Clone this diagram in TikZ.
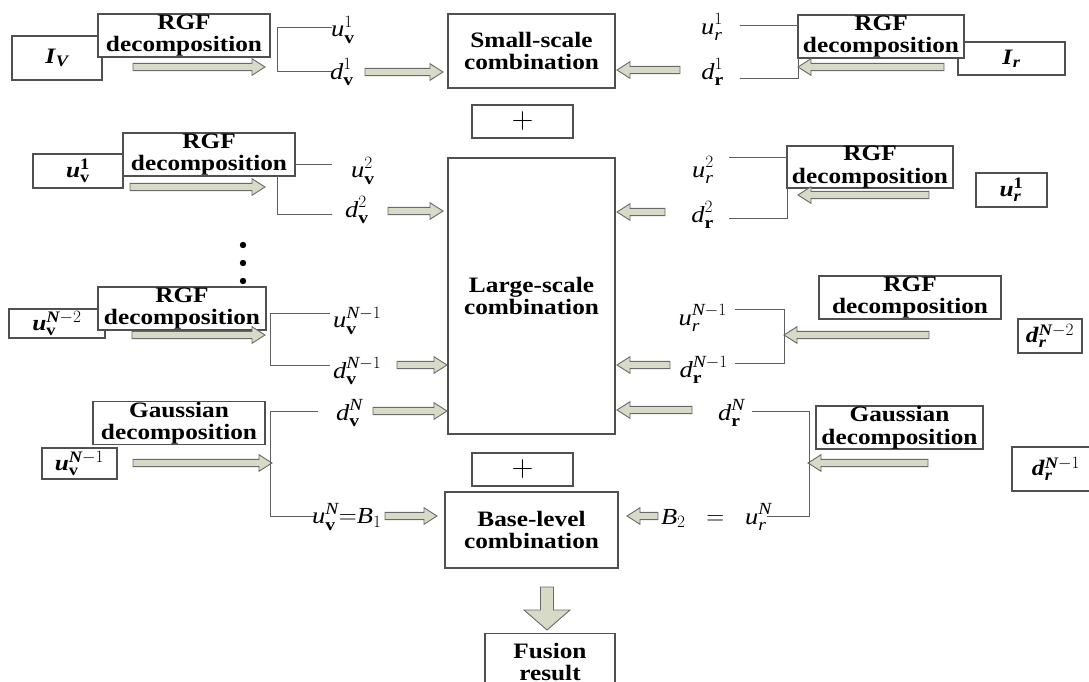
\documentclass[tikz,border=0pt]{standalone}
\usepackage{amsmath}
\usepackage{fontspec}
\setmainfont{Liberation Serif}[FakeStretch=1.15]
\usetikzlibrary{calc}
\DeclareMathSizes{23}{23}{17}{13}
\DeclareMathSizes{22}{22}{16}{12}
\definecolor{arrfill}{RGB}{215,218,198}
\definecolor{arrline}{RGB}{105,105,105}
\definecolor{boxline}{RGB}{80,80,80}
\definecolor{wire}{RGB}{95,95,95}
\newcommand\bxfont{\fontsize{22}{22.5}\selectfont\lineskiplimit=-50pt\bfseries}
\newcommand\labfont{\fontsize{23}{26}\selectfont}
\tikzset{
 box/.style={draw=boxline, line width=1.1pt, fill=white, inner sep=0pt, align=center, font=\bxfont},
 lab/.style={inner sep=0pt, font=\labfont},
 wireline/.style={draw=wire, line width=1pt},
 barr/.style={draw=arrline, fill=arrfill, line width=0.9pt, line join=miter},
}
% box: name, x1, y1, x2, y2, text
\newcommand\bx[6]{\node[box, minimum width={(#4)-(#2)}, minimum height={(#5)-(#3)}] (#1) at ({((#2)+(#4))/2},{((#3)+(#5))/2}) {#6};}
% horizontal block arrow: name, x1, x2, y
\newcommand\harrow[4]{%
 \coordinate (#1-s) at ({#2},{#4}); \coordinate (#1-e) at ({#3},{#4});
 \pgfmathsetmacro\hdir{sign((#3)-(#2))}
 \draw[barr] ({#2},{#4-3.6}) -- ({#3-\hdir*13},{#4-3.6}) -- ({#3-\hdir*13},{#4-8.3}) -- (#1-e) -- ({#3-\hdir*13},{#4+8.3}) -- ({#3-\hdir*13},{#4+3.6}) -- ({#2},{#4+3.6}) -- cycle;}
\begin{document}
\begin{tikzpicture}[x=1pt,y=-1pt]
\useasboundingbox (0,0) rectangle (1089,682);

% ---------- centre column ----------
\bx{small}{448}{14}{615}{88}{Small-scale\\combination}
\bx{plusA}{472}{105}{573}{138}{}
\node[inner sep=0pt,font=\fontsize{30}{30}\sffamily] (plusAt) at (plusA) {+};
\bx{large}{448}{158}{615}{434}{Large-scale\\combination}
\bx{plusB}{472}{453}{573}{486}{}
\node[inner sep=0pt,font=\fontsize{30}{30}\sffamily] (plusBt) at (plusB) {+};
\bx{base}{445}{492}{618}{568}{Base-level\\combination}
\node[box, minimum width=130, minimum height=80, anchor=north] (fusion) at (550,633) {};
\node[inner sep=0pt, align=center, font=\bxfont] (fusiont) at (550,662) {Fusion\\result};
\coordinate (fa) at (547,587);
\draw[barr] (540.5,587) -- (553.5,587) -- (553.5,610) -- (570,610) -- (547,630) -- (524,610) -- (540.5,610) -- cycle;

% ---------- left side ----------
\bx{Iv}{12}{36}{102}{80}{\textit{I}$_{\textit{V}}$}
\bx{rgfL1}{98}{14}{270}{57}{RGF\\decomposition}
\harrow{aL1}{133}{265}{67}
\draw[wireline] (332,28) -- (277,28) -- (277,72) -- (332,72);
\node[lab, anchor=west] (uv1) at (331,30) {$\textit{u}^{1}_{\textbf{v}}$};
\node[lab, anchor=west] (dv1) at (330,72) {$\textit{d}^{1}_{\textbf{v}}$};
\harrow{aD1}{365}{443}{72}

\bx{uv1b}{33}{154}{123}{188}{\textit{u}$^{\textbf{1}}_{\textbf{v}}$}
\bx{rgfL2}{123}{133}{295}{176}{RGF\\decomposition}
\harrow{aL2}{130}{265}{187}
\draw[wireline] (295,164) -- (332,164);
\draw[wireline] (277,176) -- (277,214) -- (332,214);
\node[lab, anchor=west] (uv2) at (351,171) {$\textit{u}^{2}_{\textbf{v}}$};
\node[lab, anchor=west] (dv2) at (345,210) {$\textit{d}^{2}_{\textbf{v}}$};
\harrow{aD2}{388}{443}{211}

\foreach \yy [count=\i] in {245,263,281} \fill (243,\yy) circle (3.2);

\bx{uvN2b}{9}{309}{105}{338}{\textit{u}$^{\textit{N}-2}_{\textbf{v}}$}
\bx{rgfL3}{98}{287}{266}{330}{RGF\\decomposition}
\harrow{aL3}{132}{265}{335}
\draw[wireline] (330,313) -- (270,313) -- (270,365) -- (330,365);
\node[lab, anchor=west] (uvN1) at (333,321) {$\textit{u}^{\textit{N}-1}_{\textbf{v}}$};
\node[lab, anchor=west] (dvN1) at (333,371) {$\textit{d}^{\textit{N}-1}_{\textbf{v}}$};
\harrow{aD3}{397}{447}{365}

\bx{gaussL}{93}{402}{265}{444}{Gaussian\\decomposition}
\bx{uvN1b}{42}{448}{117}{479}{\textit{u}$^{\textit{N}-1}_{\textbf{v}}$}
\harrow{aL4}{133}{272}{463}
\draw[wireline] (318,411) -- (270,411) -- (270,516) -- (315,516);
\node[lab, anchor=west] (dvN) at (336,413) {$\textit{d}^{\textit{N}}_{\textbf{v}}$};
\harrow{aD4}{373}{447}{411}
\node[lab, anchor=west] (uvN) at (312,517) {$\textit{u}^{\textit{N}}_{\textbf{v}}{=}\textit{B}_{1}$};
\harrow{aB1}{385}{437}{516}

% ---------- right side ----------
\bx{Ir}{958}{42}{1065}{75}{\textit{I}$_{\textbf{\textit{r}}}$}
\bx{rgfR1}{798}{15}{964}{58}{RGF\\decomposition}
\harrow{aR1}{944}{798}{67}
\draw[wireline] (740,26) -- (798,26);
\draw[wireline] (798,58) -- (798,79) -- (740,79);
\node[lab, anchor=east] (ur1) at (723,27) {$\textit{u}^{1}_{\textit{r}}$};
\node[lab, anchor=east] (dr1) at (724,72) {$\textit{d}^{1}_{\textbf{r}}$};
\harrow{aE1}{680}{617}{70}

\bx{ur1b}{976}{173}{1047}{207}{\textit{u}$^{\textbf{1}}_{\textit{r}}$}
\bx{rgfR2}{787}{146}{953}{188}{RGF\\decomposition}
\harrow{aR2}{929}{798}{195}
\draw[wireline] (729,157) -- (787,157);
\draw[wireline] (787,188) -- (787,218) -- (729,218);
\node[lab, anchor=east] (ur2) at (714,170) {$\textit{u}^{2}_{\textit{r}}$};
\node[lab, anchor=east] (dr2) at (714,215) {$\textit{d}^{2}_{\textbf{r}}$};
\harrow{aE2}{665}{617}{212}

\bx{rgfR3}{819}{276}{1001}{319}{RGF\\decomposition}
\bx{drN2b}{1018}{319}{1082}{353}{\textit{d}$^{\textit{N}-2}_{\textit{r}}$}
\harrow{aR3}{929}{784}{335}
\draw[wireline] (735,309) -- (784,309) -- (784,363) -- (735,363);
\node[lab, anchor=east] (urN1) at (727,318) {$\textit{u}^{\textit{N}-1}_{\textit{r}}$};
\node[lab, anchor=east] (drN1) at (728,370) {$\textit{d}^{\textit{N}-1}_{\textbf{r}}$};
\harrow{aE3}{670}{617}{365}

\bx{gaussR}{816}{406}{983}{449}{Gaussian\\decomposition}
\bx{drN1b}{1012}{447}{1100}{491}{\textit{d}$^{\textit{N}-1}_{\textit{r}}$}
\harrow{aR4}{928}{808}{463}
\draw[wireline] (752,411) -- (809,411) -- (809,516) -- (767,516);
\node[lab, anchor=east] (drN) at (745,413) {$\textit{d}^{\textit{N}}_{\textbf{r}}$};
\harrow{aE4}{692}{617}{410}
\node[lab, anchor=east] (B2) at (772,517) {$\textit{B}_{2}\;\;=\;\;\textit{u}^{\textit{N}}_{\textit{r}}$};
\harrow{aB2}{658}{627}{516}
\end{tikzpicture}
\end{document}
